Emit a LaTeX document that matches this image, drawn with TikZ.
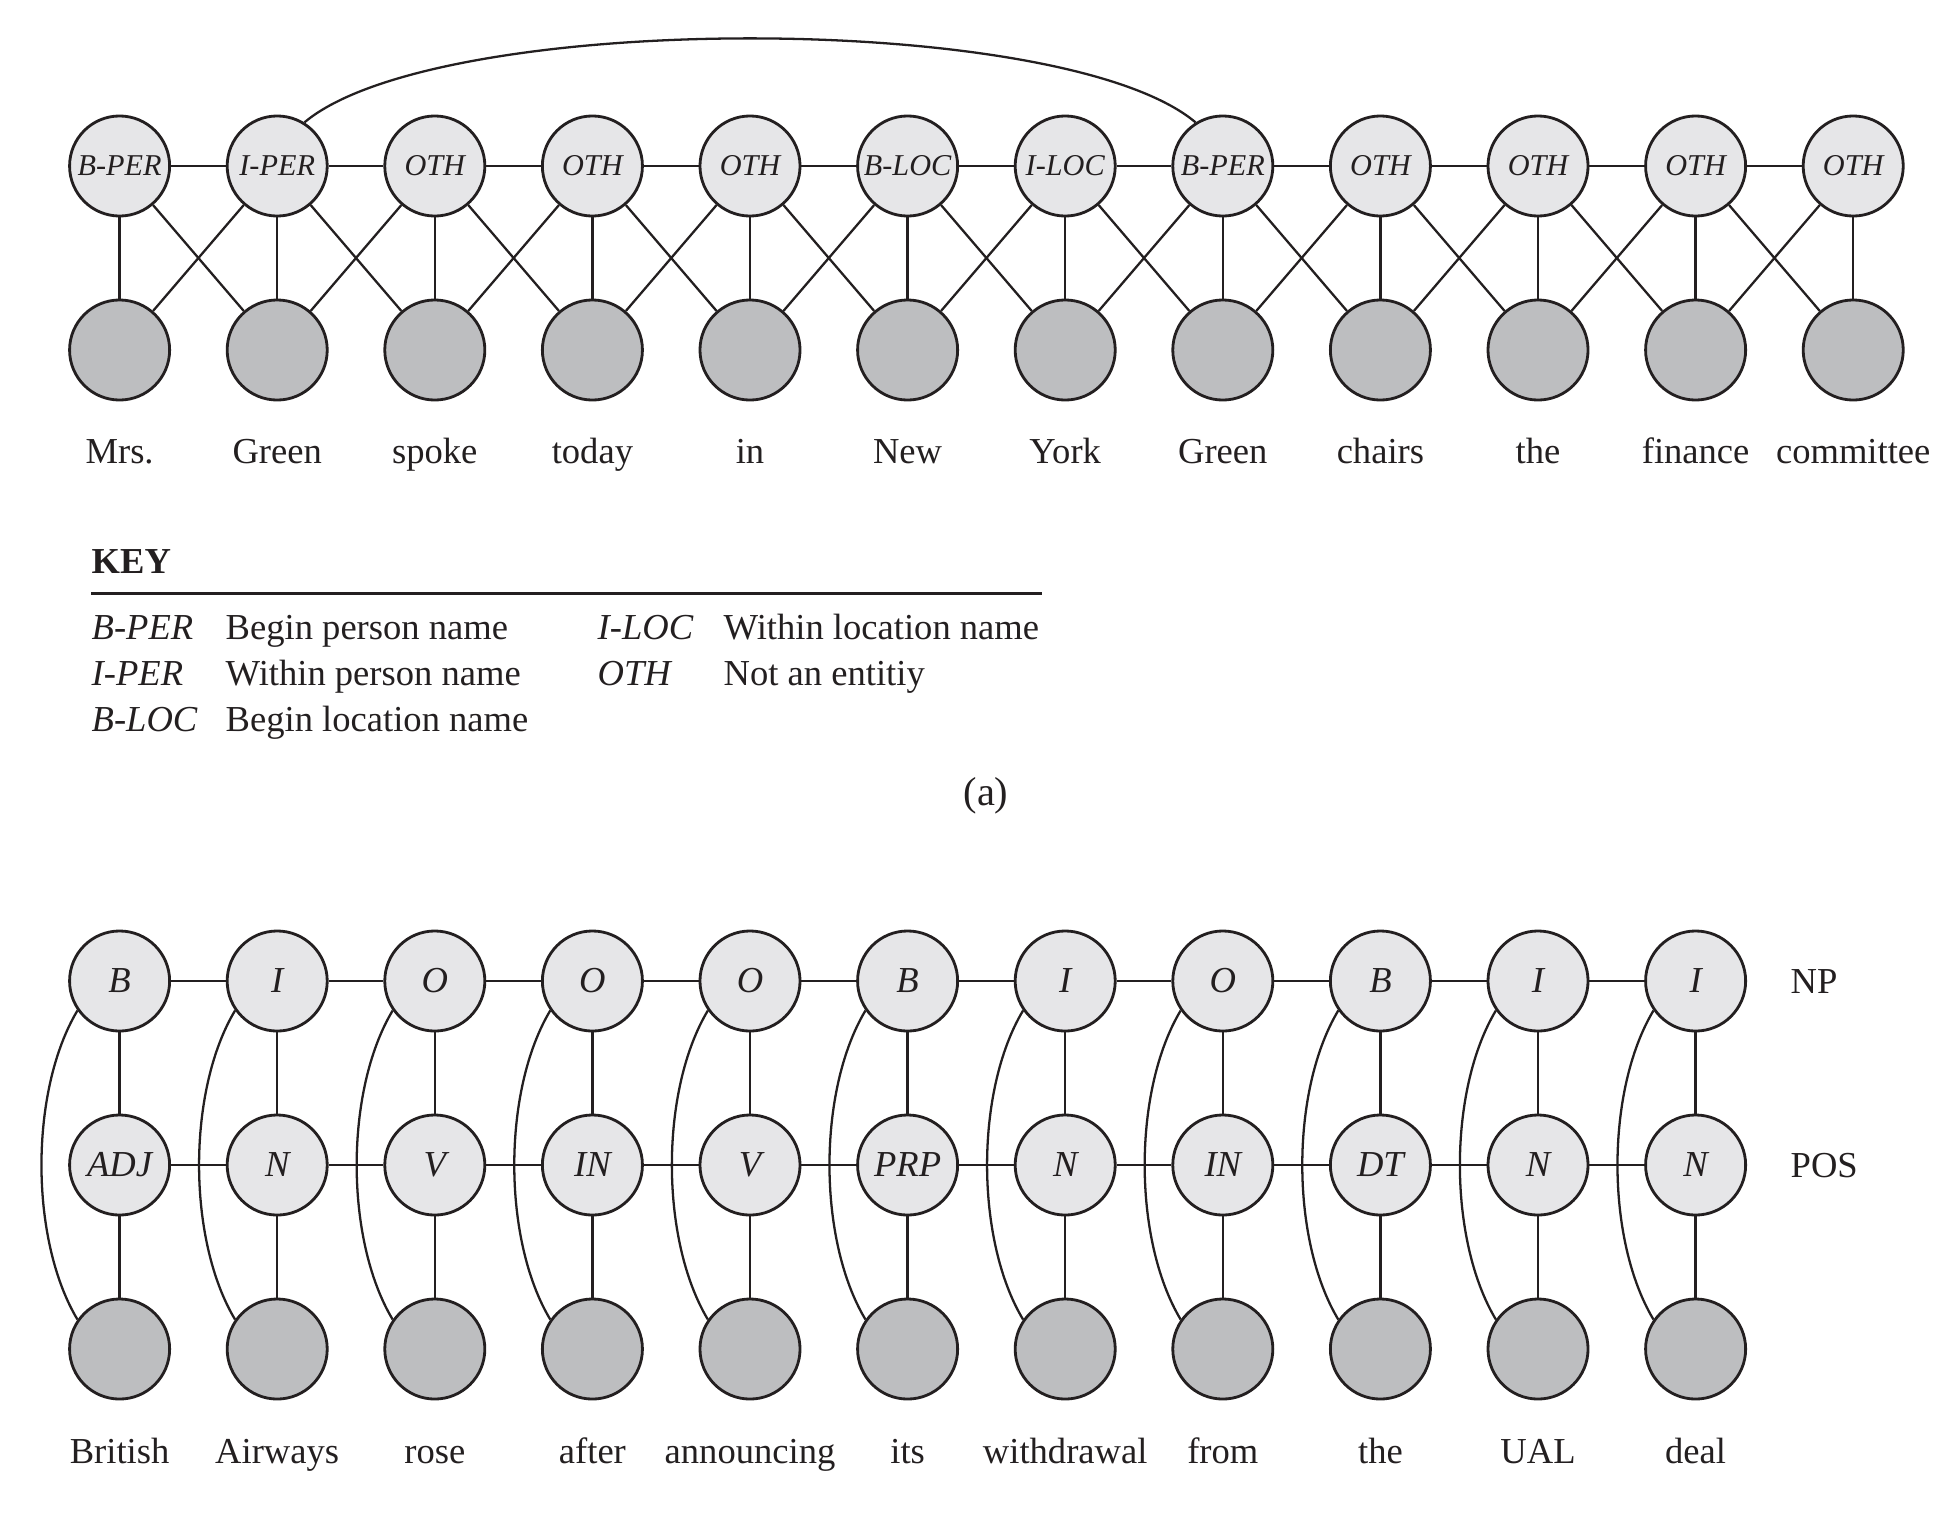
\documentclass[tikz,border=0pt]{standalone}
\usepackage{fontspec}
\setmainfont{Liberation Serif}
\definecolor{ink}{HTML}{231F20}
\definecolor{hidfill}{HTML}{E6E6E8}
\definecolor{obsfill}{HTML}{BDBEC0}
\begin{document}
\begin{tikzpicture}[x=0.01cm,y=0.01cm,color=ink,
  hid/.style={circle,draw=ink,fill=hidfill,line width=0.8pt,minimum size=1cm,inner sep=0pt},
  obs/.style={circle,draw=ink,fill=obsfill,line width=0.8pt,minimum size=1cm,inner sep=0pt},
  tagA/.style={font=\fontsize{8.6}{10}\selectfont\itshape},
  tagB/.style={font=\fontsize{10.4}{12}\selectfont\itshape},
  word/.style={anchor=base,inner sep=0pt,font=\fontsize{10.4}{12}\selectfont},
  keytxt/.style={anchor=base west,inner sep=0pt,font=\fontsize{10.4}{12}\selectfont},
  keytag/.style={anchor=base west,inner sep=0pt,font=\fontsize{10.4}{12}\selectfont\itshape},
  edge/.style={draw=ink,line width=0.65pt}]
\useasboundingbox (0,0) rectangle (1952,-1512);

% ---------- (a) named-entity chain ----------
\foreach \t [count=\i from 0] in {B-PER,I-PER,OTH,OTH,OTH,B-LOC,I-LOC,B-PER,OTH,OTH,OTH,OTH} {
  \node[hid,tagA] (t\i) at ({119.6+157.6*\i},-166) {\t};
  \node[obs] (w\i) at ({119.6+157.6*\i},-350) {};
}
\foreach \w [count=\i from 0] in {Mrs.,Green,spoke,today,in,New,York,Green,chairs,the,finance,committee}
  \node[word] (aw\i) at ({119.6+157.6*\i},-463) {\w};

\foreach \i in {0,...,10} {
  \pgfmathtruncatemacro\j{\i+1}
  \draw[edge] (t\i) -- (t\j);
  \draw[edge] (t\i) -- (w\j);
  \draw[edge] (t\j) -- (w\i);
}
\foreach \i in {0,...,11} \draw[edge] (t\i) -- (w\i);
\draw[edge] (t1.58) .. controls +(133,112) and +(-133,112) .. (t7.122);

% ---------- key ----------
\node[anchor=base west,inner sep=0pt,font=\fontsize{10.4}{12}\selectfont\bfseries] (keyhead) at (91,-573) {KEY};
\coordinate (ruleL) at (91,-593);
\coordinate (ruleR) at (1042,-593);
\draw[line width=0.85pt] (ruleL) -- (ruleR);
\node[keytag] (k1) at (91,-639) {B-PER};
\node[keytxt] (d1) at (225,-639) {Begin person name};
\node[keytag] (k2) at (91,-685) {I-PER};
\node[keytxt] (d2) at (225,-685) {Within person name};
\node[keytag] (k3) at (91,-731) {B-LOC};
\node[keytxt] (d3) at (225,-731) {Begin location name};
\node[keytag] (k4) at (597,-639) {I-LOC};
\node[keytxt] (d4) at (723,-639) {Within location name};
\node[keytag] (k5) at (597,-685) {OTH};
\node[keytxt] (d5) at (723,-685) {Not an entitiy};
\node[anchor=base,inner sep=0pt,font=\fontsize{11.5}{13}\selectfont] (capa) at (986,-805) {(a)};

% ---------- (b) NP / POS chains ----------
\foreach \t [count=\i from 0] in {B,I,O,O,O,B,I,O,B,I,I}
  \node[hid,tagB] (n\i) at ({119.6+157.6*\i},-981) {\t};
\foreach \t [count=\i from 0] in {ADJ,N,V,IN,V,PRP,N,IN,DT,N,N}
  \node[hid,tagB] (p\i) at ({119.6+157.6*\i},-1165) {\t};
\foreach \w [count=\i from 0] in {British,Airways,rose,after,announcing,its,withdrawal,from,the,UAL,deal} {
  \node[obs] (o\i) at ({119.6+157.6*\i},-1349) {};
  \node[word] (bw\i) at ({119.6+157.6*\i},-1463) {\w};
}
\node[keytxt] (np) at (1790,-993) {NP};
\node[keytxt] (pos) at (1790,-1177) {POS};

\foreach \i in {0,...,9} {
  \pgfmathtruncatemacro\j{\i+1}
  \draw[edge] (n\i) -- (n\j);
  \draw[edge] (p\i) -- (p\j);
}
\foreach \i in {0,...,10} {
  \draw[edge] (n\i) -- (p\i);
  \draw[edge] (p\i) -- (o\i);
  \draw[edge] (n\i.215) .. controls +(-48,-80) and +(-48,80) .. (o\i.145);
}
\end{tikzpicture}
\end{document}
